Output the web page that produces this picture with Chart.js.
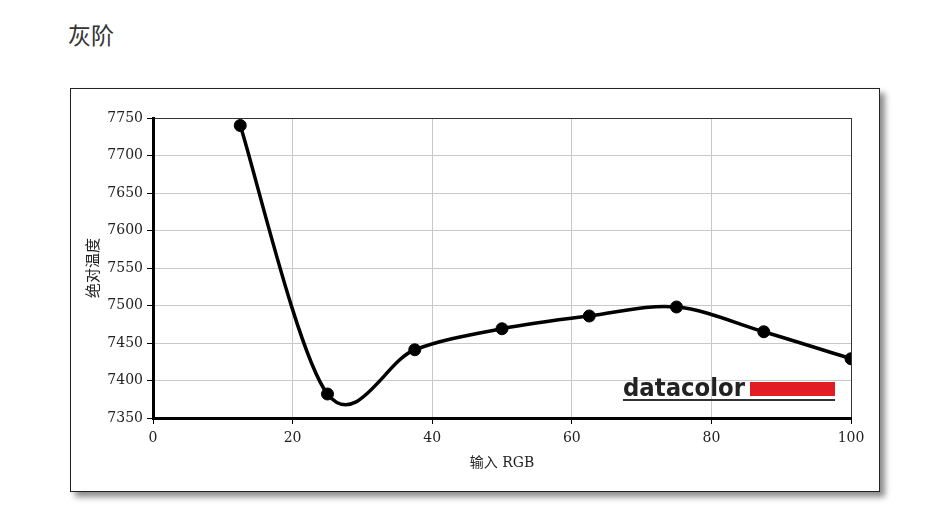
<!DOCTYPE html>
<html>
<head>
<meta charset="utf-8">
<script src="https://cdn.jsdelivr.net/npm/chart.js@4/dist/chart.umd.min.js"></script>
<style>
    html, body { margin: 0; padding: 0; background: #fff; }
    body { width: 927px; height: 518px; position: relative; overflow: hidden; }
    h1 {
        position: absolute; left: 68px; top: 17px; margin: 0;
        font: 400 23px "Noto Sans CJK SC", sans-serif; color: #333;
    }
    .frame {
        position: absolute; left: 70px; top: 88px; width: 810px; height: 404px;
        box-sizing: border-box; border: 1px solid #222; background: #fff;
        box-shadow: 5px 5px 6px rgba(0, 0, 0, 0.45);
    }
    .frame canvas { display: block; }
</style>
</head>
<body>
<h1>灰阶</h1>
<div class="frame"><canvas id="chart" width="808" height="402"></canvas></div>
<script>
const inputRgb = [12.5, 25, 37.5, 50, 62.5, 75, 87.5, 100]
const colorTemp = [7740, 7382, 7441, 7469, 7486, 7498, 7465, 7429]

const xTitle = '输入 RGB'
const yTitle = '绝对温度'
const logoText = 'datacolor'

const tickFont = {family: '"DejaVu Serif", serif', size: 14}
const titleFont = {family: '"DejaVu Serif", "Noto Sans CJK SC", sans-serif', size: 14}

// cardinal spline (tension 0.5) through the dataset's points, like the original
const curvePlugin = {
    id: 'curve',
    beforeDatasetsDraw(chart){
        const pts = chart.getDatasetMeta(0).data.map(p => ({x: p.x, y: p.y}))
        if(pts.length < 2){
            return
        }
        const {ctx} = chart
        ctx.save()
        ctx.beginPath()
        ctx.moveTo(pts[0].x, pts[0].y)
        for(let i = 0; i < pts.length - 1; i++){
            const p0 = pts[i - 1] || pts[i]
            const p1 = pts[i]
            const p2 = pts[i + 1]
            const p3 = pts[i + 2] || p2
            ctx.bezierCurveTo(
                p1.x + (p2.x - p0.x) / 6, p1.y + (p2.y - p0.y) / 6,
                p2.x - (p3.x - p1.x) / 6, p2.y - (p3.y - p1.y) / 6,
                p2.x, p2.y
            )
        }
        ctx.strokeStyle = '#000'
        ctx.lineWidth = 3.5
        ctx.lineJoin = 'round'
        ctx.stroke()
        ctx.restore()
    }
}

const logoPlugin = {
    id: 'logo',
    afterDraw(chart){
        const {ctx, chartArea} = chart
        const right = chartArea.right - 16
        const base = chartArea.bottom - 22
        const left = right - 212
        ctx.save()
        ctx.fillStyle = '#222'
        ctx.font = 'bold 24px "DejaVu Sans", sans-serif'
        ctx.textBaseline = 'alphabetic'
        ctx.fillText(logoText, left, base, 122)
        ctx.fillStyle = '#e31b23'
        ctx.fillRect(left + 127, base - 14, 85, 14)
        ctx.fillStyle = '#333'
        ctx.fillRect(left, base + 3, 212, 2)
        ctx.restore()
    }
}

new Chart(document.getElementById('chart'), {
    type: 'line',
    data: {
        datasets: [{
            data: inputRgb.map((x, i) => ({x, y: colorTemp[i]})),
            showLine: false,
            borderColor: '#000',
            backgroundColor: '#000',
            pointRadius: 6,
            pointBackgroundColor: '#000'
        }]
    },
    options: {
        responsive: false,
        animation: false,
        layout: {padding: {left: 0, top: 29, right: 28, bottom: 0}},
        plugins: {legend: {display: false}, tooltip: {enabled: false}},
        scales: {
            x: {
                type: 'linear',
                min: 0,
                max: 100,
                afterFit(scale){ scale.height = 73 },
                ticks: {stepSize: 20, color: '#222', font: tickFont, padding: 6, maxRotation: 0, callback: v => String(v)},
                grid: {
                    color: c => c.tick && c.tick.value === 100 ? '#333' : '#c8c8c8',
                    tickColor: '#000',
                    tickLength: 6,
                    lineWidth: 1
                },
                border: {color: '#000', width: 3},
                title: {display: true, text: xTitle, color: '#222', font: titleFont, padding: {top: 0, bottom: 19}}
            },
            y: {
                min: 7350,
                max: 7750,
                afterFit(scale){ scale.width = 82 },
                ticks: {stepSize: 50, color: '#222', font: tickFont, padding: 4, callback: v => String(v)},
                grid: {
                    color: c => c.tick && c.tick.value === 7750 ? '#333' : '#c8c8c8',
                    tickColor: '#000',
                    tickLength: 6,
                    lineWidth: 1
                },
                border: {color: '#000', width: 3},
                title: {display: true, text: yTitle, color: '#222', font: {family: '"Noto Sans CJK SC", sans-serif', size: 15}, padding: {top: 12, bottom: 0}}
            }
        }
    },
    plugins: [curvePlugin, logoPlugin]
})
</script>
</body>
</html>
